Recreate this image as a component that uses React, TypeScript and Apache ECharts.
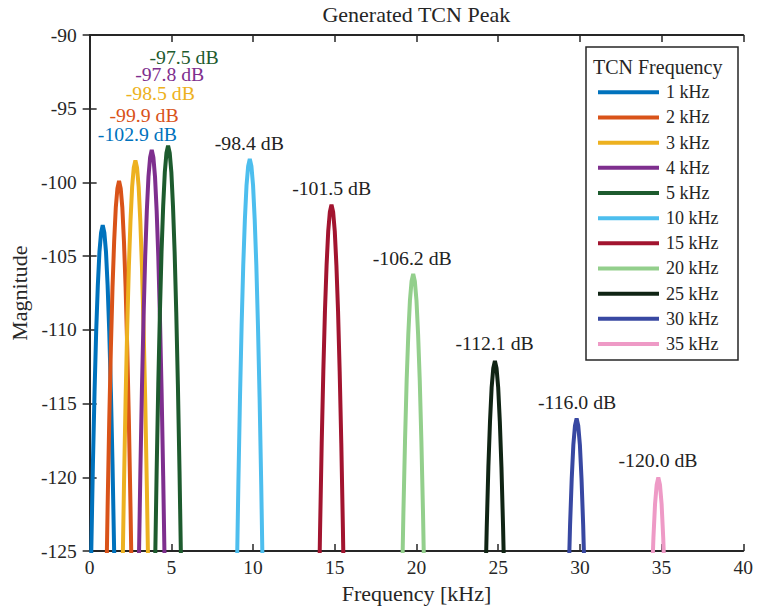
import React, { useEffect, useRef } from "react";
import * as echarts from "echarts";

// ---- Data ----
const seriesNames = ["1 kHz", "2 kHz", "3 kHz", "4 kHz", "5 kHz", "10 kHz", "15 kHz", "20 kHz", "25 kHz", "30 kHz", "35 kHz"];
const seriesColors = ["#0072BD", "#D95319", "#EDB120", "#7E2F8E", "#1D5B2E", "#4DBEEE", "#A2142F", "#93CF8C", "#102414", "#3848A2", "#EE9AC6"];

const peak1k = [[0.0, -131.7], [0.1, -125.0], [0.2, -119.1], [0.3, -114.2], [0.4, -110.1], [0.5, -107.0], [0.6, -104.7], [0.7, -103.4], [0.8, -102.9], [0.9, -103.4], [1.0, -104.7], [1.1, -107.0], [1.2, -110.1], [1.3, -114.2], [1.4, -119.1], [1.5, -125.0], [1.6, -131.7]];
const peak2k = [[1.0, -128.7], [1.1, -122.0], [1.2, -116.1], [1.3, -111.2], [1.4, -107.1], [1.5, -104.0], [1.6, -101.7], [1.7, -100.4], [1.8, -99.9], [1.9, -100.4], [2.0, -101.7], [2.1, -104.0], [2.2, -107.1], [2.3, -111.2], [2.4, -116.1], [2.5, -122.0], [2.6, -128.7]];
const peak3k = [[2.0, -127.3], [2.1, -120.6], [2.2, -114.7], [2.3, -109.8], [2.4, -105.7], [2.5, -102.6], [2.6, -100.3], [2.7, -99.0], [2.8, -98.5], [2.9, -99.0], [3.0, -100.3], [3.1, -102.6], [3.2, -105.7], [3.3, -109.8], [3.4, -114.7], [3.5, -120.6], [3.6, -127.3]];
const peak4k = [[3.0, -126.6], [3.1, -119.9], [3.2, -114.0], [3.3, -109.1], [3.4, -105.0], [3.5, -101.9], [3.6, -99.6], [3.7, -98.3], [3.8, -97.8], [3.9, -98.3], [4.0, -99.6], [4.1, -101.9], [4.2, -105.0], [4.3, -109.1], [4.4, -114.0], [4.5, -119.9], [4.6, -126.6]];
const peak5k = [[4.0, -126.3], [4.1, -119.6], [4.2, -113.7], [4.3, -108.8], [4.4, -104.7], [4.5, -101.6], [4.6, -99.3], [4.7, -98.0], [4.8, -97.5], [4.9, -98.0], [5.0, -99.3], [5.1, -101.6], [5.2, -104.7], [5.3, -108.8], [5.4, -113.7], [5.5, -119.6], [5.6, -126.3]];
const peak10k = [[9.0, -127.2], [9.1, -120.5], [9.2, -114.6], [9.3, -109.7], [9.4, -105.6], [9.5, -102.5], [9.6, -100.2], [9.7, -98.9], [9.8, -98.4], [9.9, -98.9], [10.0, -100.2], [10.1, -102.5], [10.2, -105.6], [10.3, -109.7], [10.4, -114.6], [10.5, -120.5], [10.6, -127.2]];
const peak15k = [[14.0, -130.3], [14.1, -123.6], [14.2, -117.7], [14.3, -112.8], [14.4, -108.7], [14.5, -105.6], [14.6, -103.3], [14.7, -102.0], [14.8, -101.5], [14.9, -102.0], [15.0, -103.3], [15.1, -105.6], [15.2, -108.7], [15.3, -112.8], [15.4, -117.7], [15.5, -123.6], [15.6, -130.3]];
const peak20k = [[19.1, -128.3], [19.2, -122.4], [19.3, -117.5], [19.4, -113.4], [19.5, -110.3], [19.6, -108.0], [19.7, -106.7], [19.8, -106.2], [19.9, -106.7], [20.0, -108.0], [20.1, -110.3], [20.2, -113.4], [20.3, -117.5], [20.4, -122.4], [20.5, -128.3]];
const peak25k = [[24.2, -128.3], [24.3, -123.4], [24.4, -119.3], [24.5, -116.2], [24.6, -113.9], [24.7, -112.6], [24.8, -112.1], [24.9, -112.6], [25.0, -113.9], [25.1, -116.2], [25.2, -119.3], [25.3, -123.4], [25.4, -128.3]];
const peak30k = [[29.3, -127.3], [29.4, -123.2], [29.5, -120.1], [29.6, -117.8], [29.7, -116.5], [29.8, -116.0], [29.9, -116.5], [30.0, -117.8], [30.1, -120.1], [30.2, -123.2], [30.3, -127.3]];
const peak35k = [[34.4, -127.2], [34.5, -124.1], [34.6, -121.8], [34.7, -120.5], [34.8, -120.0], [34.9, -120.5], [35.0, -121.8], [35.1, -124.1], [35.2, -127.2]];

const peakData = [peak1k, peak2k, peak3k, peak4k, peak5k, peak10k, peak15k, peak20k, peak25k, peak30k, peak35k];

// peak annotation texts and their anchor (centre) positions in data coordinates
const peakLabels = ["-102.9 dB", "-99.9 dB", "-98.5 dB", "-97.8 dB", "-97.5 dB", "-98.4 dB", "-101.5 dB", "-106.2 dB", "-112.1 dB", "-116.0 dB", "-120.0 dB"];
const labelFreq = [2.92, 3.33, 4.32, 4.90, 5.78, 9.77, 14.81, 19.74, 24.78, 29.83, 34.78];
const labelMag = [-96.71, -95.42, -93.93, -92.64, -91.49, -97.32, -100.37, -105.11, -110.87, -114.86, -118.79];
const labelColored = [true, true, true, true, true, false, false, false, false, false, false];

const xTicks = { min: 0, max: 40, interval: 5 };
const yTicks = { min: -125, max: -90, interval: 5 };

const FONT = "'Liberation Serif', 'Times New Roman', serif";
const INK = "#262626";

export default function App() {
  const ref = useRef<HTMLDivElement>(null);
  useEffect(() => {
    document.body.style.margin = "0";
    const chart = echarts.init(ref.current as HTMLDivElement, undefined, { renderer: "svg" });
    const gridLeft = 89.3;
    const gridRight = 13.7;
    const gridTop = 35;
    const gridBottom = 57.3;

    const axisCommon = {
      axisLine: { show: true, lineStyle: { color: INK, width: 1.8 } },
      axisTick: { show: true, inside: true, length: 7, lineStyle: { color: INK, width: 1.5 } },
      splitLine: { show: false },
    };

    const series = peakData.map((d, i) => ({
      name: seriesNames[i],
      type: "line",
      data: d,
      symbol: "none",
      showSymbol: false,
      clip: true,
      lineStyle: { color: seriesColors[i], width: 4 },
      itemStyle: { color: seriesColors[i] },
      z: 2,
      markPoint: {
        symbol: "circle",
        symbolSize: 1,
        itemStyle: { color: "rgba(0,0,0,0)" },
        label: {
          show: true,
          position: "inside",
          formatter: peakLabels[i],
          color: labelColored[i] ? seriesColors[i] : "#222222",
          fontSize: 19.75,
          lineHeight: 16,
          fontFamily: FONT,
        },
        data: [{ coord: [labelFreq[i], labelMag[i]] }],
      },
    }));

    chart.setOption({
      animation: false,
      backgroundColor: "#ffffff",
      grid: { left: gridLeft, right: gridRight, top: gridTop, bottom: gridBottom },
      xAxis: [
        {
          type: "value",
          ...xTicks,
          position: "bottom",
          ...axisCommon,
          axisLabel: { color: INK, fontSize: 19.5, fontFamily: FONT, margin: 6 },
          name: "Frequency [kHz]",
          nameLocation: "middle",
          nameGap: 28,
          nameTextStyle: { color: INK, fontSize: 22, fontFamily: FONT, verticalAlign: "top" },
        },
        {
          type: "value",
          ...xTicks,
          position: "top",
          ...axisCommon,
          axisLabel: { show: false },
        },
      ],
      yAxis: [
        {
          type: "value",
          ...yTicks,
          position: "left",
          ...axisCommon,
          axisLabel: { color: INK, fontSize: 19.5, fontFamily: FONT, margin: 13 },
          name: "Magnitude",
          nameLocation: "middle",
          nameGap: 56,
          nameTextStyle: { color: INK, fontSize: 22, fontFamily: FONT },
        },
        {
          type: "value",
          ...yTicks,
          position: "right",
          ...axisCommon,
          axisLabel: { show: false },
        },
      ],
      legend: {
        data: seriesNames,
        orient: "vertical",
        left: 598,
        top: 82.3,
        icon: "rect",
        itemWidth: 61,
        itemHeight: 4,
        itemGap: 5.17,
        padding: 0,
        z: 5,
        textStyle: { color: INK, fontSize: 18, fontFamily: FONT, lineHeight: 20, padding: [0, 0, 0, 2] },
      },
      graphic: [
        {
          type: "text",
          x: 416.3,
          y: 14,
          style: { text: "Generated TCN Peak", fill: INK, fontSize: 22, fontFamily: FONT, textAlign: "center", textVerticalAlign: "middle" },
        },
        {
          type: "rect",
          z: 3,
          shape: { x: 586, y: 47, width: 152, height: 313 },
          style: { fill: "#ffffff", stroke: INK, lineWidth: 1.5 },
        },
        {
          type: "text",
          z: 4,
          x: 657.7,
          y: 66.7,
          style: { text: "TCN Frequency", fill: INK, fontSize: 20, fontFamily: FONT, textAlign: "center", textVerticalAlign: "middle" },
        },
      ],
      series,
    });
    return () => chart.dispose();
  }, []);
  return <div ref={ref} style={{ position: "fixed", left: 0, top: 0, width: 757, height: 609 }} />;
}
